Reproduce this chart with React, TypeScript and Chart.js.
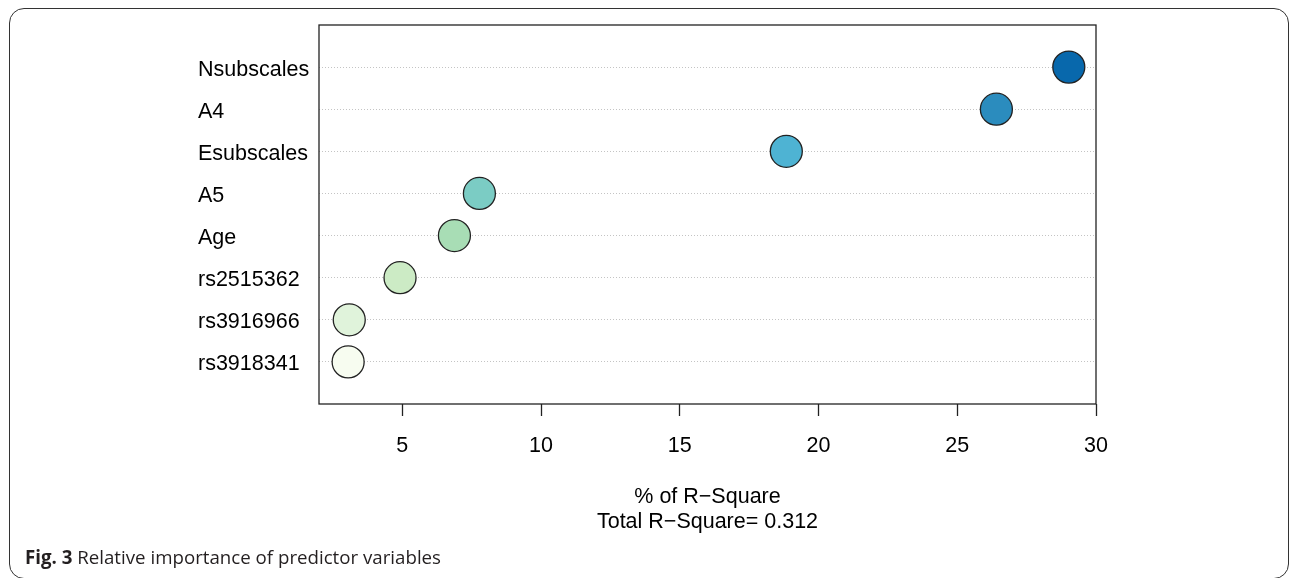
import React, { useEffect, useRef } from "react";
import { Chart, registerables, LinearScale } from "chart.js";

Chart.register(...registerables);

// Categories listed bottom (position 1) to top (position 8)
const categories = [
  "rs3918341",
  "rs3916966",
  "rs2515362",
  "Age",
  "A5",
  "Esubscales",
  "A4",
  "Nsubscales",
];
const rsquarePct = [3.05, 3.09, 4.92, 6.88, 7.78, 18.84, 26.41, 29.02];
const pointColors = [
  "#F7FCF0",
  "#E0F3DB",
  "#CCEBC5",
  "#A8DDB5",
  "#7BCCC4",
  "#4EB3D3",
  "#2B8CBE",
  "#0868AC",
];
const xTicks = [5, 10, 15, 20, 25, 30];
const xTitleLines = ["% of R\u2212Square", "Total R\u2212Square= 0.312"];
const captionBold = "Fig. 3";
const captionText = " Relative importance of predictor variables";

const FONT = "'Liberation Sans', Arial, Helvetica, sans-serif";

// Linear scale whose labels sit slightly lower (R's text centring)
class ShiftedLinearScale extends (LinearScale as any) {
  static id = "shiftedLinear";
  static defaults = (LinearScale as any).defaults;
  drawLabels(area: any) {
    const ctx = (this as any).ctx;
    ctx.save();
    ctx.translate(0, 2.5);
    super.drawLabels(area);
    ctx.restore();
  }
}
Chart.register(ShiftedLinearScale as any);

const boxPlugin = {
  id: "boxPlugin",
  afterDatasetsDraw(chart: any) {
    const { ctx, chartArea } = chart;
    ctx.save();
    ctx.strokeStyle = "#222";
    ctx.lineWidth = 1.3;
    ctx.setLineDash([]);
    ctx.strokeRect(
      chartArea.left,
      chartArea.top,
      chartArea.right - chartArea.left,
      chartArea.bottom - chartArea.top
    );
    ctx.restore();
  },
};

export default function App() {
  const canvasRef = useRef<HTMLCanvasElement | null>(null);

  useEffect(() => {
    document.body.style.margin = "0";
    const canvas = canvasRef.current;
    if (!canvas) return;
    const data = rsquarePct.map((v, i) => ({ x: v, y: i + 1 }));
    const chart = new Chart(canvas, {
      type: "scatter",
      data: {
        datasets: [
          {
            data,
            backgroundColor: pointColors,
            borderColor: "#222",
            borderWidth: 1.3,
            pointRadius: 16,
            pointHoverRadius: 16,
          },
        ],
      },
      options: {
        animation: false,
        responsive: false,
        events: [],
        layout: { padding: { left: 198, top: 25, right: 194, bottom: 44 } },
        plugins: {
          legend: { display: false },
          tooltip: { enabled: false },
        },
        scales: {
          x: {
            type: "linear",
            min: 2,
            max: 30,
            afterBuildTicks: (scale: any) => {
              scale.ticks = xTicks.map((v) => ({ value: v }));
            },
            afterFit: (scale: any) => {
              scale.height = 130;
            },
            grid: {
              drawOnChartArea: false,
              drawTicks: true,
              tickLength: 12,
              tickColor: "#222",
              tickWidth: 1.3,
            },
            border: { display: false },
            ticks: {
              color: "#000",
              padding: 17,
              maxRotation: 0,
              font: { family: FONT, size: 21.5 },
            },
            title: {
              display: true,
              text: xTitleLines,
              color: "#000",
              padding: 0,
              font: { family: FONT, size: 21.5, lineHeight: 1.13 },
            },
          },
          y: {
            type: "shiftedLinear",
            min: 0,
            max: 9,
            afterBuildTicks: (scale: any) => {
              scale.ticks = categories.map((_, i) => ({ value: i + 1 }));
            },
            afterFit: (scale: any) => {
              scale.width = 121;
            },
            grid: {
              drawTicks: false,
              color: "#c4c4c4",
              lineWidth: 1,
            },
            border: { display: false, dash: [1, 2] },
            ticks: {
              color: "#000",
              crossAlign: "far",
              padding: 0,
              font: { family: FONT, size: 21.5 },
              callback: (value: any) => {
                const idx = Math.round(Number(value)) - 1;
                return categories[idx] ?? "";
              },
            },
          },
        },
      },
      plugins: [boxPlugin],
    } as any);
    return () => chart.destroy();
  }, []);

  return (
    <div
      style={{
        position: "fixed",
        left: 0,
        top: 0,
        width: 1290,
        height: 578,
        background: "#fff",
        overflow: "hidden",
      }}
    >
      <div
        style={{
          position: "absolute",
          left: 9,
          top: 8,
          width: 1280,
          height: 571,
          boxSizing: "border-box",
          border: "1.5px solid #333",
          borderRadius: 15,
        }}
      />
      <canvas
        ref={canvasRef}
        width={1290}
        height={578}
        style={{ position: "absolute", left: 0, top: 0, width: 1290, height: 578 }}
      />
      <div
        style={{
          position: "absolute",
          left: 25,
          top: 547,
          fontFamily: "'Open Sans', sans-serif",
          fontSize: 18.7,
          lineHeight: "20px",
          color: "#231f20",
          whiteSpace: "nowrap",
        }}
      >
        <span style={{ fontWeight: 700 }}>{captionBold}</span>
        <span>{captionText}</span>
      </div>
    </div>
  );
}
